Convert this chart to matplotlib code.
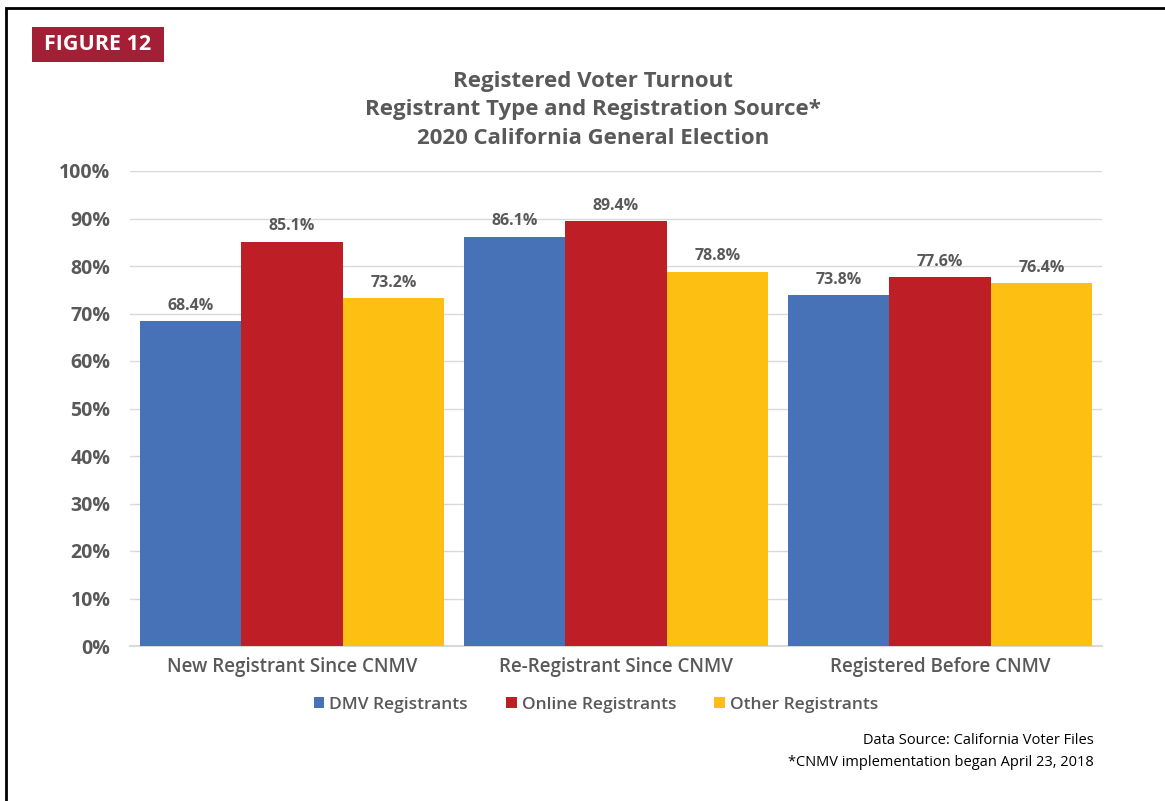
import matplotlib.pyplot as plt
import numpy as np
from matplotlib.patches import Rectangle

plt.rcParams['font.family'] = ['Open Sans', 'DejaVu Sans']

categories = ['New Registrant Since CNMV', 'Re-Registrant Since CNMV', 'Registered Before CNMV']
series = ['DMV Registrants', 'Online Registrants', 'Other Registrants']
dmv = [68.4, 86.1, 73.8]
online = [85.1, 89.4, 77.6]
other = [73.2, 78.8, 76.4]
colors = ['#4772B8', '#BE1E26', '#FCBF12']
grey = '#595959'

W, H = 1165, 801
fig = plt.figure(figsize=(W / 100, H / 100), dpi=100)

# outer frame, runs off the right and bottom edges
fig.patches.append(Rectangle((6 / W, -0.1), 1.2, (H - 8) / H + 0.1, transform=fig.transFigure,
                             fill=False, edgecolor='black', linewidth=2))

# figure tag
fig.patches.append(Rectangle((32 / W, 1 - 62 / H), 132 / W, 35 / H, transform=fig.transFigure,
                             facecolor='#A31F35', edgecolor='none'))
fig.text(98 / W, 1 - 45 / H, 'FIGURE 12', color='white', fontsize=15.5, fontweight='bold',
         ha='center', va='center')

ax = fig.add_axes([130 / W, 1 - 646 / H, 972 / W, 475 / H])

x = np.arange(len(categories))
bw = 0.313
for i, (vals, c) in enumerate(zip([dmv, online, other], colors)):
    pos = x + (i - 1) * bw
    bars = ax.bar(pos, vals, bw, color=c, label=series[i], zorder=3)
    for p, v in zip(pos, vals):
        ax.text(p, v + 1.6, f'{v:.1f}%', ha='center', va='bottom', fontsize=11.5,
                fontweight='bold', color=grey)

ax.set_xlim(-0.5, 2.5)
ax.set_ylim(0, 100)
ax.set_yticks(np.arange(0, 101, 10))
ax.set_yticklabels([f'{t}%' for t in range(0, 101, 10)], fontsize=14, fontweight='bold', color=grey)
ax.set_xticks(x)
ax.set_xticklabels(categories, fontsize=13.5, fontweight='semibold', color=grey)
ax.tick_params(axis='both', length=0)
ax.tick_params(axis='y', pad=14)
ax.tick_params(axis='x', pad=8)
ax.grid(axis='y', color='#D9D9D9', linewidth=1, zorder=0)
for s in ['top', 'right', 'left']:
    ax.spines[s].set_visible(False)
ax.spines['bottom'].set_color('#D9D9D9')
ax.spines['bottom'].set_linewidth(1.5)

fig.text(593 / W, 1 - 82 / H, 'Registered Voter Turnout', ha='center', va='center',
         fontsize=16, fontweight='bold', color=grey)
fig.text(593 / W, 1 - 110 / H, 'Registrant Type and Registration Source*', ha='center', va='center',
         fontsize=16, fontweight='bold', color=grey)
fig.text(593 / W, 1 - 138 / H, '2020 California General Election', ha='center', va='center',
         fontsize=16, fontweight='bold', color=grey)

leg = fig.legend(loc='center', bbox_to_anchor=(596 / W, 1 - 705 / H), ncol=3, frameon=False,
                 handlelength=0.6, handleheight=0.6, handletextpad=0.3, columnspacing=2.2,
                 prop={'size': 12.5, 'weight': 'semibold'})
for t in leg.get_texts():
    t.set_color(grey)

fig.text(1094 / W, 1 - 741 / H, 'Data Source: California Voter Files', ha='right', va='center',
         fontsize=10.5, color='black')
fig.text(1094 / W, 1 - 762 / H, '*CNMV implementation began April 23, 2018', ha='right', va='center',
         fontsize=10.5, color='black')

fig.savefig('out.png', dpi=100)
